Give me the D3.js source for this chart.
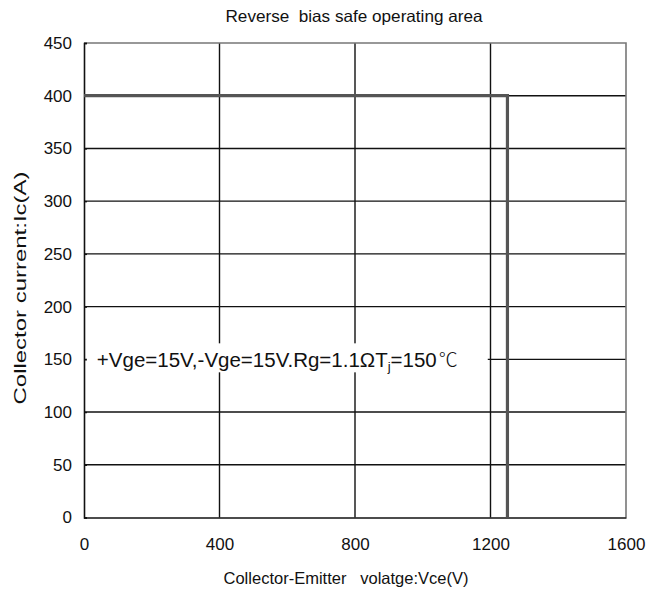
<!DOCTYPE html>
<html>
<head>
<meta charset="utf-8">
<script src="https://cdn.jsdelivr.net/npm/d3@7"></script>
<style>
  html, body { margin: 0; padding: 0; background: #fff; }
  svg text { font-family: "Liberation Sans", Arial, sans-serif; fill: #111; }
</style>
</head>
<body>
<svg id="chart" width="666" height="589"></svg>
<script>
// Axis ticks
const xTicks = [0, 400, 800, 1200, 1600];
const yTicks = [0, 50, 100, 150, 200, 250, 300, 350, 400, 450];

// RBSOA boundary: Vce (V) vs Ic (A)
const boundaryVce = [0, 1250, 1250];
const boundaryIc = [400, 400, 0];

const conditionLabel = { pre: "+Vge=15V,-Vge=15V.Rg=1.1\u03A9T", sub: "j", post: "=150", unit: "\u2103", vce: 38, ic: 150 };

const titleText = "Reverse\u00A0 bias safe operating area";
const xTitle = "Collector-Emitter\u00A0\u00A0 volatge:Vce(V)";
const yTitle = "Collector current:Ic(A)";

const svg = d3.select("#chart");
const plotLeft = 84, plotRight = 626, plotTop = 43, plotBottom = 517.5;

const x = d3.scaleLinear().domain([0, 1600]).range([plotLeft, plotRight]);
const y = d3.scaleLinear().domain([0, 450]).range([plotBottom, plotTop]);

// Grid lines
const grid = svg.append("g");
grid.selectAll("line.v").data(xTicks.filter(d => d > 0 && d < 1600)).join("line")
  .attr("x1", d => x(d)).attr("x2", d => x(d))
  .attr("y1", y(0)).attr("y2", y(450))
  .attr("stroke", "#111").attr("stroke-width", 1.4);
grid.selectAll("line.h").data(yTicks.filter(d => d > 0 && d < 450)).join("line")
  .attr("x1", x(0)).attr("x2", x(1600))
  .attr("y1", d => y(d)).attr("y2", d => y(d))
  .attr("stroke", "#111").attr("stroke-width", 1.4);

// Top and right frame
svg.append("path")
  .attr("d", `M${x(0)},${y(450)}H${x(1600)}V${y(0)}`)
  .attr("fill", "none").attr("stroke", "#777").attr("stroke-width", 1.6);

// Axes
const xAxis = d3.axisBottom(x).tickValues(xTicks).tickSize(0).tickPadding(20).tickFormat(d3.format("d"));
const gx = svg.append("g").attr("transform", `translate(0,${y(0)})`).call(xAxis);
gx.select(".domain").attr("stroke", "#111").attr("stroke-width", 1.6);
gx.selectAll("text").attr("font-size", 17).attr("fill", "#111");

const yAxis = d3.axisLeft(y).tickValues(yTicks).tickSize(-3).tickPadding(12);
const gy = svg.append("g").attr("transform", `translate(${x(0)},0)`).call(yAxis);
gy.select(".domain").attr("stroke", "#111").attr("stroke-width", 1.6);
gy.selectAll(".tick line").attr("stroke", "#111").attr("stroke-width", 1.4);
gy.selectAll("text").attr("font-size", 17).attr("fill", "#111");

// Boundary line
const pts = boundaryVce.map((v, i) => [x(v), y(boundaryIc[i])]);
svg.append("path")
  .attr("d", d3.line()(pts))
  .attr("fill", "none").attr("stroke", "#555").attr("stroke-width", 3.2);

// Condition label with white backing
const lab = svg.append("g");
const bg = lab.append("rect").attr("fill", "#fff");
const t = lab.append("text")
  .attr("x", x(conditionLabel.vce)).attr("y", y(conditionLabel.ic) + 7.5)
  .attr("font-size", 20.5);
t.append("tspan").text(conditionLabel.pre);
t.append("tspan").attr("font-size", 13).attr("dy", 4).text(conditionLabel.sub);
t.append("tspan").attr("dy", -4).text(conditionLabel.post);
t.append("tspan").attr("dx", 2).attr("font-family", "'Noto Sans CJK SC', sans-serif")
  .attr("font-weight", 300).attr("font-size", 19).text(conditionLabel.unit);
const bb = t.node().getBBox();
bg.attr("x", bb.x - 10).attr("y", y(conditionLabel.ic) - 16)
  .attr("width", bb.width + 40).attr("height", 29);

// Titles
svg.append("text").attr("x", 354).attr("y", 22).attr("text-anchor", "middle")
  .attr("font-size", 16.5).attr("textLength", 257).attr("lengthAdjust", "spacingAndGlyphs")
  .text(titleText);
svg.append("text").attr("x", 346).attr("y", 584).attr("text-anchor", "middle")
  .attr("font-size", 16.5).attr("textLength", 245).attr("lengthAdjust", "spacingAndGlyphs")
  .text(xTitle);
svg.append("text").attr("transform", `translate(26,288) rotate(-90)`)
  .attr("text-anchor", "middle").attr("font-size", 16).attr("textLength", 233).attr("lengthAdjust", "spacingAndGlyphs")
  .text(yTitle);
</script>
</body>
</html>
